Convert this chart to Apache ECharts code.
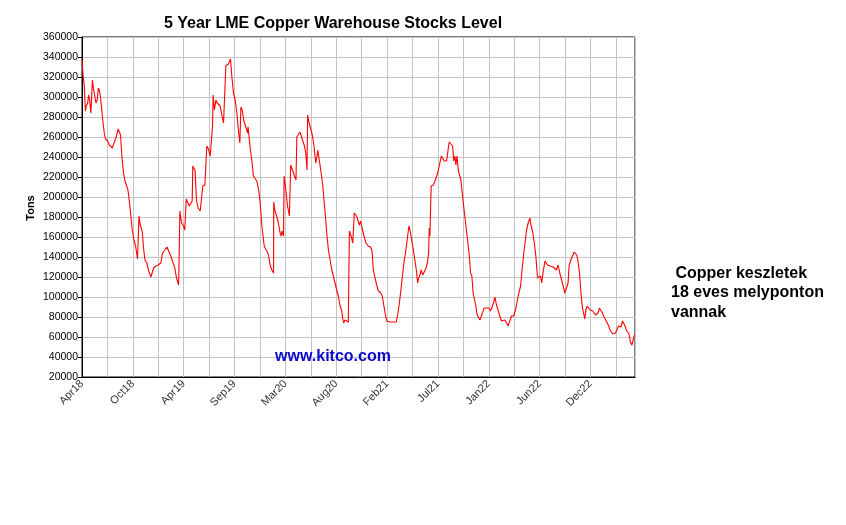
<!DOCTYPE html>
<html>
<head>
<meta charset="utf-8">
<title>5 Year LME Copper Warehouse Stocks Level</title>
<script src="https://cdn.jsdelivr.net/npm/echarts@6/dist/echarts.min.js"></script>
<style>
    html, body { margin: 0; padding: 0; background: #fff; }
    #chart { width: 846px; height: 525px; }
</style>
</head>
<body>
<div id="chart"></div>
<script>
// x = weeks since end of Apr 2018, gridline every 12 weeks, label every 24
var xLabels = ['Apr18', 'Oct18', 'Apr19', 'Sep19', 'Mar20', 'Aug20', 'Feb21', 'Jul21', 'Jan22', 'Jun22', 'Dec22'];
var yTicks = [20000, 360000, 20000]; // min, max, step

var weeks = [
    0, 0.5, 1.1, 1.6, 2.0, 2.7, 3.1, 3.6, 4.2, 4.9, 5.5, 6.1, 6.6, 7.2, 7.7, 8.3, 8.9, 9.7, 10.5, 11.1,
    12.1, 12.9, 13.5, 14.3, 15.1, 16.0, 17.1, 18.2, 18.8, 19.6, 20.3, 20.9, 21.7, 22.6, 23.7, 24.5, 25.3, 26.2, 26.9, 27.5,
    28.4, 29.1, 29.7, 30.6, 31.6, 32.5, 33.1, 33.8, 34.9, 36.0, 37.2, 38.0, 39.1, 40.1, 41.0, 41.9, 43.0, 43.8, 44.6, 45.6,
    46.2, 47.0, 47.9, 48.5, 49.2, 49.8, 50.6, 51.4, 52.0, 52.3, 52.9, 53.4, 54.0, 54.8, 55.8, 56.6, 57.0, 58.0, 58.6, 58.9,
    59.7, 60.5, 61.1, 61.6, 61.9, 62.5, 63.2, 63.8, 64.4, 65.2, 66.0, 66.8, 67.6, 67.9, 68.5, 69.1, 69.6, 70.1, 70.7, 71.5,
    72.3, 73.1, 73.8, 74.5, 75.0, 75.7, 76.4, 77.0, 77.5, 78.1, 78.4, 78.9, 79.5, 80.3, 80.9, 81.7, 82.5, 83.4, 84.1, 84.9,
    86.0, 87.2, 88.0, 88.8, 89.6, 90.4, 90.5, 91.1, 91.9, 92.7, 93.5, 94.0, 94.4, 95.1, 95.4, 96.0, 97.0, 97.9, 98.5, 99.5,
    100.3, 101.0, 101.4, 102.1, 102.9, 103.6, 104.2, 105.0, 105.6, 106.2, 106.5, 107.2, 108.0, 108.7, 109.5, 110.3, 110.8, 111.3, 111.7, 112.4,
    113.0, 113.6, 114.2, 114.9, 115.5, 116.3, 117.1, 117.9, 118.6, 119.4, 120.2, 121.0, 121.8, 122.6, 123.0, 123.5, 124.1, 124.9, 125.7, 126.2,
    127.0, 127.8, 128.5, 129.0, 129.6, 130.3, 130.9, 131.5, 132.2, 133.1, 134.0, 135.1, 136.2, 136.9, 137.5, 138.3, 139.1, 139.9, 141.0, 141.7,
    142.5, 143.3, 143.9, 144.7, 145.4, 146.1, 146.9, 147.7, 148.3, 149.0, 149.8, 150.5, 151.3, 152.1, 152.7, 153.2, 153.7, 154.3, 154.8, 155.6,
    156.4, 157.1, 157.8, 158.4, 158.9, 159.5, 160.1, 160.8, 161.4, 162.2, 163.0, 163.6, 163.9, 164.2, 164.8, 165.8, 166.6, 167.4, 168.1, 168.9,
    169.6, 170.2, 171.0, 172.1, 172.7, 173.3, 174.1, 174.9, 175.5, 176.0, 176.5, 177.0, 177.6, 178.4, 178.8, 179.6, 180.4, 181.2, 182.0, 182.8,
    183.4, 184.0, 184.6, 185.3, 185.9, 186.5, 187.2, 187.8, 188.4, 189.0, 189.8, 190.9, 192.0, 192.8, 193.6, 194.2, 194.9, 195.6, 196.4, 197.2,
    198.0, 198.8, 199.6, 200.4, 201.1, 201.9, 202.7, 203.8, 204.8, 205.4, 206.2, 207.0, 207.7, 208.5, 209.2, 209.8, 210.6, 211.4, 212.0, 212.8,
    213.6, 214.2, 215.0, 215.8, 216.4, 217.0, 217.7, 218.5, 218.9, 219.7, 220.0, 220.8, 221.6, 222.4, 223.1, 223.9, 224.7, 225.5, 226.3, 227.1,
    227.9, 228.6, 229.4, 229.9, 230.7, 231.5, 232.3, 232.9, 233.5, 234.1, 234.8, 235.4, 236.0, 236.7, 237.3, 237.8, 238.4, 239.2, 239.8, 240.4,
    241.1, 241.7, 242.3, 243.0, 243.6, 244.2, 244.8, 245.6, 246.4, 247.2, 248.0, 248.6, 249.2, 249.9, 250.5, 251.1, 251.8, 252.5, 253.2, 253.8,
    254.4, 255.1, 255.7, 256.3, 256.9, 257.6, 258.2, 258.8, 259.5, 260.1, 260.6, 261.0
];

var tons = [
    337000, 322000, 311000, 286000, 291000, 294000, 302000, 297000, 284000, 317000, 307000, 308000, 294000, 297000, 309000, 306000, 296000, 279000, 264000, 258000,
    256000, 252000, 253000, 249000, 254000, 259000, 268000, 262000, 241000, 224000, 216000, 217000, 207000, 191000, 167000, 157000, 151000, 138000, 181000, 172000,
    166000, 148000, 137000, 134000, 125000, 120000, 122000, 129000, 131000, 132000, 134000, 144000, 147000, 150000, 149000, 141000, 134000, 129000, 119000, 112000,
    186000, 174000, 171000, 167000, 198000, 197000, 191000, 189000, 196000, 231000, 230000, 226000, 197000, 189000, 186000, 186000, 211000, 212000, 211000, 251000,
    248000, 241000, 241000, 271000, 302000, 287000, 297000, 294000, 296000, 291000, 282000, 274000, 272000, 331000, 329000, 333000, 335000, 338000, 321000, 304000,
    297000, 284000, 267000, 254000, 290000, 286000, 276000, 277000, 269000, 264000, 270000, 259000, 247000, 234000, 221000, 222000, 216000, 207000, 194000, 171000,
    151000, 146000, 142000, 132000, 127000, 124000, 195000, 186000, 181000, 174000, 164000, 161000, 166000, 161000, 221000, 211000, 191000, 181000, 232000, 226000,
    221000, 217000, 260000, 261000, 265000, 263000, 256000, 251000, 244000, 227000, 282000, 274000, 272000, 262000, 251000, 234000, 239000, 247000, 241000, 231000,
    222000, 212000, 197000, 181000, 164000, 147000, 137000, 127000, 121000, 114000, 107000, 101000, 91000, 86000, 79000, 74000, 77000, 79000, 75000, 166000,
    161000, 154000, 184000, 186000, 181000, 176000, 172000, 176000, 169000, 161000, 154000, 151000, 150000, 146000, 127000, 119000, 112000, 106000, 104000, 101000,
    91000, 81000, 76000, 77000, 75000, 77000, 75000, 77000, 75000, 82000, 94000, 107000, 122000, 137000, 144000, 144000, 161000, 171000, 167000, 157000,
    147000, 137000, 127000, 114000, 119000, 122000, 127000, 122000, 124000, 128000, 134000, 144000, 169000, 161000, 211000, 212000, 216000, 221000, 226000, 226000,
    241000, 239000, 236000, 236000, 246000, 255000, 254000, 251000, 236000, 241000, 232000, 241000, 227000, 226000, 217000, 201000, 186000, 171000, 157000, 141000,
    124000, 121000, 104000, 97000, 91000, 82000, 84000, 77000, 76000, 84000, 89000, 89000, 89000, 86000, 86000, 94000, 100000, 92000, 87000, 81000,
    76000, 74000, 77000, 74000, 71000, 76000, 81000, 81000, 89000, 96000, 104000, 111000, 127000, 144000, 156000, 167000, 174000, 179000, 171000, 164000,
    152000, 141000, 119000, 117000, 121000, 114000, 126000, 136000, 137000, 132000, 134000, 131000, 132000, 130000, 131000, 127000, 132000, 124000, 122000, 111000,
    104000, 102000, 114000, 131000, 137000, 139000, 145000, 146000, 142000, 136000, 124000, 107000, 92000, 84000, 78000, 87000, 91000, 91000, 87000, 88000,
    86000, 85000, 82000, 81000, 84000, 89000, 87000, 84000, 80000, 77000, 75000, 71000, 67000, 66000, 63000, 65000, 64000, 64000, 71000, 72000,
    70000, 76000, 77000, 71000, 67000, 67000, 63000, 55000, 52000, 52000, 61000, 62000
];

var lineData = [];
for (var i = 0; i < weeks.length; i++) {
    lineData.push([weeks[i], tons[i]]);
}

var myChart = echarts.init(document.getElementById('chart'));

var option = {
    backgroundColor: '#fff',
    animation: false,
    grid: {
        left: 82,
        right: 211,
        top: 37,
        bottom: 148,
        show: true,
        borderColor: '#000',
        borderWidth: 1
    },
    xAxis: {
        type: 'value',
        min: 0,
        max: 261,
        interval: 12,
        axisLine: { show: true, lineStyle: { color: '#000', width: 1 } },
        axisTick: { show: false },
        splitLine: { show: true, lineStyle: { color: '#c4c4c4', width: 1 } },
        axisLabel: {
            rotate: 45,
            margin: 5,
            fontFamily: 'Liberation Sans',
            fontSize: 11,
            color: '#333',
            showMaxLabel: false,
            formatter: function (v) {
                if (v % 24 === 0) {
                    return xLabels[v / 24] || '';
                }
                return '';
            }
        }
    },
    yAxis: {
        type: 'value',
        min: yTicks[0],
        max: yTicks[1],
        interval: yTicks[2],
        axisLine: { show: true, lineStyle: { color: '#000', width: 1 } },
        axisTick: { show: true, length: 4, lineStyle: { color: '#000' } },
        splitLine: { show: true, lineStyle: { color: '#c4c4c4', width: 1 } },
        axisLabel: {
            margin: 4,
            fontFamily: 'Liberation Sans',
            fontSize: 10.5,
            color: '#000',
            formatter: function (v) {
                return String(v);
            }
        }
    },
    series: [{
        type: 'line',
        data: lineData,
        showSymbol: false,
        symbol: 'none',
        lineStyle: { color: '#f00', width: 1.1 },
        z: 5
    }],
    graphic: [
        {
            type: 'text',
            x: 333,
            y: 24,
            style: {
                text: '5 Year LME Copper Warehouse Stocks Level',
                font: 'bold 16px "Liberation Sans"',
                fill: '#000',
                textAlign: 'center',
                textVerticalAlign: 'middle'
            }
        },
        {
            // y axis title
            type: 'text',
            x: 31,
            y: 208,
            rotation: Math.PI / 2,
            style: {
                text: 'Tons',
                font: 'bold 11px "Liberation Sans"',
                fill: '#000',
                textAlign: 'center',
                textVerticalAlign: 'middle'
            }
        },
        {
            type: 'text',
            x: 333,
            y: 357,
            z: 10,
            style: {
                text: 'www.kitco.com',
                font: 'bold 16px "Liberation Sans"',
                fill: '#0a0ac8',
                textAlign: 'center',
                textVerticalAlign: 'middle'
            }
        },
        {
            type: 'text',
            x: 671,
            y: 293,
            style: {
                text: ' Copper keszletek\n18 eves melyponton\nvannak',
                font: 'bold 16px "Liberation Sans"',
                lineHeight: 19.7,
                fill: '#000',
                textAlign: 'left',
                textVerticalAlign: 'middle'
            }
        }
    ]
};

myChart.setOption(option);
</script>
</body>
</html>
